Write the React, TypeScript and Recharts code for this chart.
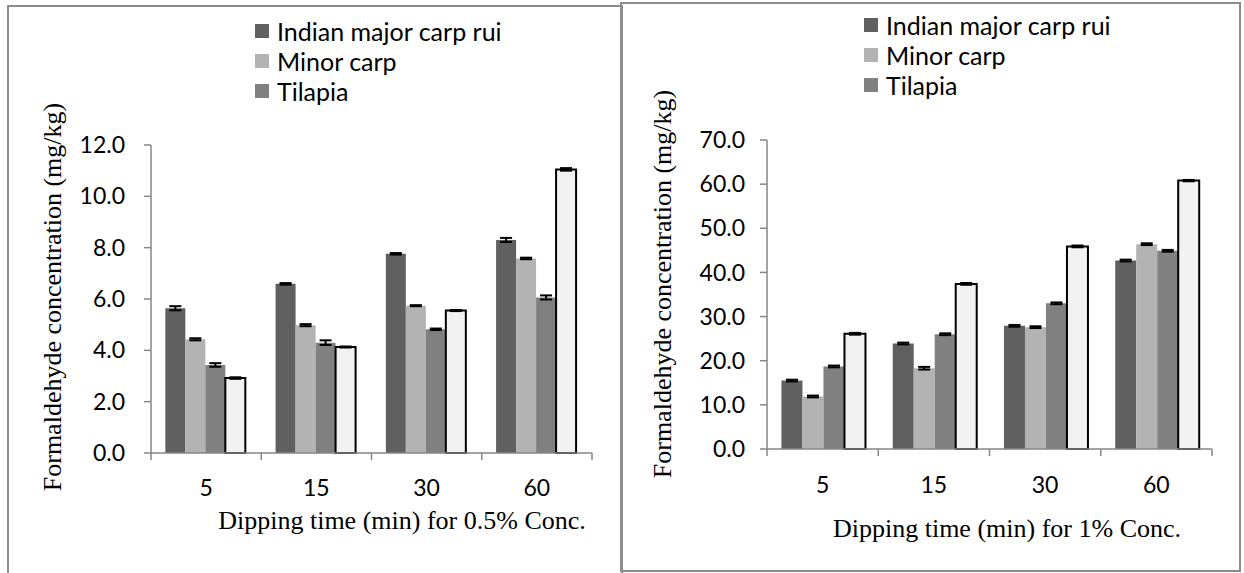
import { BarChart, Bar, XAxis, YAxis, ErrorBar, Legend, Label } from "recharts";

// dipping times (min)
const categories = ["5", "15", "30", "60"];
const seriesNames = ["Indian major carp rui", "Minor carp", "Tilapia", "Series 4"];

// 0.5% formaldehyde
const rui05 = [5.64, 6.59, 7.76, 8.3];
const minor05 = [4.43, 4.98, 5.74, 7.58];
const tilapia05 = [3.43, 4.3, 4.82, 6.06];
const fourth05 = [2.92, 4.13, 5.55, 11.05];
const rui05Err = [0.08, 0.03, 0.03, 0.08];
const minor05Err = [0.04, 0.04, 0.02, 0.03];
const tilapia05Err = [0.07, 0.09, 0.03, 0.08];
const fourth05Err = [0.03, 0.02, 0.02, 0.05];
const ticks05 = [0, 2, 4, 6, 8, 10, 12];

// 1% formaldehyde
const rui1 = [15.5, 23.9, 27.9, 42.7];
const minor1 = [11.9, 18.3, 27.6, 46.4];
const tilapia1 = [18.7, 26.0, 33.0, 44.9];
const fourth1 = [26.1, 37.4, 45.9, 60.8];
const rui1Err = [0.2, 0.2, 0.2, 0.2];
const minor1Err = [0.2, 0.3, 0.2, 0.2];
const tilapia1Err = [0.2, 0.2, 0.2, 0.2];
const fourth1Err = [0.2, 0.2, 0.2, 0.15];
const ticks1 = [0, 10, 20, 30, 40, 50, 60, 70];

const COLORS = ["#606060", "#b3b3b3", "#808080", "#f2f2f2"];
const AXIS = "#868686";
const SANS = "Lato, 'Open Sans', sans-serif";
const SERIF = "'Liberation Serif', 'Times New Roman', serif";
const TICK = 7;

function buildRows(values: number[][], errors: number[][]) {
  return categories.map((time, i) => ({
    time,
    s0: values[0][i],
    s1: values[1][i],
    s2: values[2][i],
    s3: values[3][i],
    e0: errors[0][i],
    e1: errors[1][i],
    e2: errors[2][i],
    e3: errors[3][i],
  }));
}

const data05 = buildRows(
  [rui05, minor05, tilapia05, fourth05],
  [rui05Err, minor05Err, tilapia05Err, fourth05Err]
);
const data1 = buildRows(
  [rui1, minor1, tilapia1, fourth1],
  [rui1Err, minor1Err, tilapia1Err, fourth1Err]
);

const makeCategoryTick = (tickMargin: number) => (props: any) => {
  const { x, y, payload, index, visibleTicksCount } = props;
  const half = payload.offset ?? 55;
  const y0 = y - tickMargin - TICK;
  return (
    <g>
      <line x1={x - half} x2={x - half} y1={y0} y2={y0 + TICK} stroke={AXIS} strokeWidth={1.5} />
      {index === visibleTicksCount - 1 && (
        <line x1={x + half} x2={x + half} y1={y0} y2={y0 + TICK} stroke={AXIS} strokeWidth={1.5} />
      )}
      <text x={x} y={y} dy="0.71em" textAnchor="middle" fontFamily={SANS} fontSize={23} fill="#000">
        {payload.value}
      </text>
    </g>
  );
};

const renderLegend = (props: any) => {
  const items = (props.payload || []).filter((p: any) => p.type !== "none");
  return (
    <div style={{ fontFamily: SANS, fontSize: 25, color: "#000" }}>
      {items.map((p: any) => (
        <div key={p.value} style={{ display: "flex", alignItems: "center", height: 30 }}>
          <span style={{ width: 14, height: 14, background: p.color, marginRight: 8, display: "inline-block" }} />
          <span style={{ whiteSpace: "nowrap" }}>{p.value}</span>
        </div>
      ))}
    </div>
  );
};

interface PanelProps {
  data: any[];
  width: number;
  margin: { top: number; right: number; bottom: number; left: number };
  max: number;
  ticks: number[];
  yTickMargin: number;
  xTickMargin: number;
  xTitle: string;
  xTitlePos: [number, number];
  yTitlePos: [number, number];
  legendPos: [number, number];
}

function Panel(p: PanelProps) {
  return (
    <BarChart width={p.width} height={573} data={p.data} margin={p.margin} barCategoryGap="13%" barGap={0}>
      <XAxis
        dataKey="time"
        height={30}
        interval={0}
        axisLine={{ stroke: AXIS, strokeWidth: 1.5 }}
        tickLine={false}
        tickSize={TICK}
        tickMargin={p.xTickMargin}
        tick={makeCategoryTick(p.xTickMargin)}
      >
        <Label
          content={() => (
            <text
              x={p.xTitlePos[0]}
              y={p.xTitlePos[1]}
              textAnchor="middle"
              dominantBaseline="central"
              fontFamily={SERIF}
              fontSize={26}
              fill="#000"
            >
              {p.xTitle}
            </text>
          )}
        />
      </XAxis>
      <YAxis
        width={60}
        domain={[0, p.max]}
        ticks={p.ticks}
        interval={0}
        tickFormatter={(v: number) => v.toFixed(1)}
        axisLine={{ stroke: AXIS, strokeWidth: 1.5 }}
        tickLine={{ stroke: AXIS, strokeWidth: 1.5 }}
        tickSize={TICK}
        tickMargin={p.yTickMargin}
        tick={{ fontFamily: SANS, fontSize: 23, fill: "#000" }}
      >
        <Label
          content={() => (
            <text
              x={p.yTitlePos[0]}
              y={p.yTitlePos[1]}
              transform={`rotate(-90 ${p.yTitlePos[0]} ${p.yTitlePos[1]})`}
              textAnchor="middle"
              dominantBaseline="central"
              fontFamily={SERIF}
              fontSize={26}
              fill="#000"
            >
              Formaldehyde concentration (mg/kg)
            </text>
          )}
        />
      </YAxis>
      <Legend
        layout="vertical"
        align="center"
        verticalAlign="middle"
        content={renderLegend}
        wrapperStyle={{ left: p.legendPos[0], top: p.legendPos[1], width: "auto" }}
      />
      {[0, 1, 2, 3].map((i) => (
        <Bar
          key={i}
          dataKey={`s${i}`}
          name={seriesNames[i]}
          fill={COLORS[i]}
          stroke={i === 3 ? "#000" : "none"}
          strokeWidth={i === 3 ? 2 : 0}
          legendType={i === 3 ? "none" : "square"}
          isAnimationActive={false}
        >
          <ErrorBar dataKey={`e${i}`} width={6} stroke="#000" strokeWidth={2} isAnimationActive={false} />
        </Bar>
      ))}
    </BarChart>
  );
}

export default function App() {
  return (
    <div
      style={{
        position: "absolute",
        left: 0,
        top: 0,
        width: 1244,
        height: 573,
        overflow: "hidden",
        background: "#fff",
      }}
    >
      <div
        style={{
          position: "absolute",
          left: 7,
          top: 5,
          width: 616,
          height: 640,
          border: "2px solid #8c8c8c",
          boxSizing: "border-box",
        }}
      />
      <div
        style={{
          position: "absolute",
          left: 620,
          top: 2,
          width: 621,
          height: 570,
          border: "2px solid #8c8c8c",
          boxSizing: "border-box",
        }}
      />
      <div style={{ position: "absolute", left: 0, top: 0 }}>
        <Panel
          data={data05}
          width={620}
          margin={{ top: 145, right: 28, bottom: 90, left: 91 }}
          max={12}
          ticks={ticks05}
          yTickMargin={19}
          xTickMargin={20}
          xTitle="Dipping time (min) for 0.5% Conc."
          xTitlePos={[402, 520]}
          yTitlePos={[52, 297]}
          legendPos={[255, 16]}
        />
      </div>
      <div style={{ position: "absolute", left: 620, top: 0 }}>
        <Panel
          data={data1}
          width={624}
          margin={{ top: 140, right: 32, bottom: 94, left: 87 }}
          max={70}
          ticks={ticks1}
          yTickMargin={15}
          xTickMargin={21}
          xTitle="Dipping time (min) for 1% Conc."
          xTitlePos={[387, 528]}
          yTitlePos={[42, 284]}
          legendPos={[244, 10]}
        />
      </div>
    </div>
  );
}
